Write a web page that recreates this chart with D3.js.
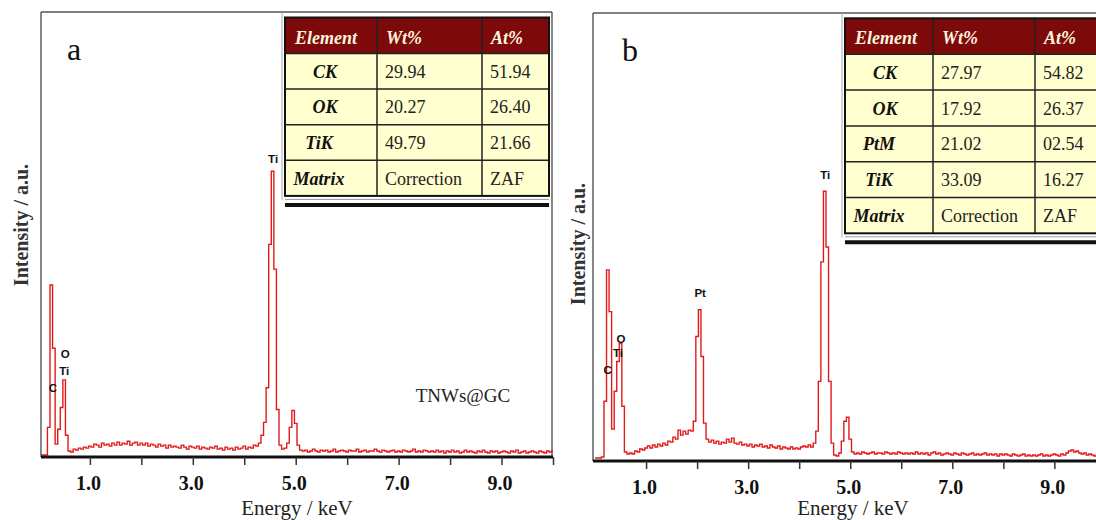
<!DOCTYPE html>
<html>
<head>
<meta charset="utf-8">
<script src="https://cdn.jsdelivr.net/npm/d3@7"></script>
<style>
  body { margin: 0; background: #fff; }
  svg { display: block; }
</style>
</head>
<body>
<svg id="chart" width="1096" height="520"></svg>
<script>
// ---- EDS spectra: counts per 0.05 keV channel ----
const channelWidth = 0.05;

// TNWs@GC
const startEnergyA = 0.05;
const countsA = [
  2, 2, 2, 30, 174, 110, 13, 28, 50, 78,
  22, 6, 5, 8, 7, 9, 8, 10, 9, 11,
  10, 13, 12, 10, 14, 12, 13, 11, 14, 12,
  15, 12, 14, 13, 16, 12, 14, 15, 12, 14,
  12, 14, 11, 13, 12, 10, 13, 11, 12, 9,
  12, 10, 11, 10, 9, 12, 10, 8, 11, 10,
  9, 11, 8, 10, 9, 8, 10, 9, 11, 8,
  9, 7, 10, 8, 9, 7, 10, 8, 9, 11,
  8, 10, 9, 12, 11, 14, 22, 35, 70, 215,
  289, 190, 48, 12, 8, 9, 14, 30, 47, 34,
  12, 7,
  6, 7, 5, 6, 8, 6, 5, 7, 6, 7,
  5, 6, 8, 5, 6, 7, 6, 5, 7, 6,
  6, 8, 5, 6, 7, 5, 6, 6, 8, 6,
  5, 7, 6, 5, 6, 7, 5, 6, 5, 7,
  6, 5, 6, 8, 5, 6, 5, 7, 6, 5,
  6, 5, 7, 5, 6, 4, 6, 5, 7, 5,
  6, 4, 5, 7, 5, 6, 5, 4, 6, 5,
  7, 5, 4, 6, 5, 6, 4, 5, 6, 5,
  4, 6, 5, 7, 4, 5, 6, 4, 5, 6,
  5, 4, 6, 5, 4, 6, 5, 6
];

// Pt on TNWs@GC
const startEnergyB = 0.0;
const countsB = [
  3, 3, 3, 4, 60, 192, 150, 32, 70, 100,
  118, 55, 9, 7, 8, 7, 10, 9, 12, 11,
  13, 15, 13, 16, 14, 17, 15, 18, 16, 20,
  19, 24, 22, 31, 26, 30, 27, 31, 30, 40,
  125, 152, 105, 38, 22, 19, 21, 18, 20, 17,
  19, 18, 22, 19, 23, 18, 17, 19, 16, 17,
  15, 17, 14, 16, 15, 17, 14, 15, 13, 16,
  14, 13, 15, 12, 14, 13, 12, 14, 12, 13,
  12, 14, 15, 14, 16, 14, 18, 30, 80, 200,
  271, 215, 80, 18, 6, 5, 8, 20, 40, 44,
  22, 9, 7,
  8, 7, 9, 8, 7, 8, 9, 7, 8, 8,
  7, 9, 8, 7, 8, 7, 9, 8, 7, 8,
  7, 8, 7, 9, 7, 8, 7, 8, 6, 8,
  9, 7, 8, 6, 7, 8, 7, 6, 8, 7,
  6, 8, 7, 6, 7, 8, 6, 7, 6, 7,
  8, 6, 7, 6, 7, 5, 7, 6, 7, 6,
  5, 7, 6, 5, 6, 7, 5, 6, 5, 6,
  5, 6, 7, 5, 6, 5, 6, 7, 6, 5,
  7, 6, 8, 10, 11, 9, 10, 8, 7, 8,
  6, 7, 6, 5, 7, 6, 5
];

// ---- axis ticks ----
const tickEnergies = [1, 2, 3, 4, 5, 6, 7, 8, 9, 10];
const tickLabels = ["1.0", "", "3.0", "", "5.0", "", "7.0", "", "9.0", ""];

// ---- peak annotations (energy in keV, level in a.u.) ----
const peaksA = [
  { label: "C", energy: 0.28, level: 66 },
  { label: "Ti", energy: 0.50, level: 83 },
  { label: "O", energy: 0.52, level: 100 },
  { label: "Ti", energy: 4.56, level: 297 }
];
const peaksB = [
  { label: "C", energy: 0.245, level: 87 },
  { label: "Ti", energy: 0.45, level: 104 },
  { label: "O", energy: 0.51, level: 119 },
  { label: "Pt", energy: 2.06, level: 165 },
  { label: "Ti", energy: 4.51, level: 283 }
];

// ---- composition tables ----
const tableHeader = ["Element", "Wt%", "At%"];
const tableRowsA = [
  ["CK", "29.94", "51.94"],
  ["OK", "20.27", "26.40"],
  ["TiK", "49.79", "21.66"],
  ["Matrix", "Correction", "ZAF"]
];
const tableRowsB = [
  ["CK", "27.97", "54.82"],
  ["OK", "17.92", "26.37"],
  ["PtM", "21.02", "02.54"],
  ["TiK", "33.09", "16.27"],
  ["Matrix", "Correction", "ZAF"]
];

const SERIF = '"Liberation Serif", "Times New Roman", Times, serif';
const SANS = '"Liberation Sans", Arial, Helvetica, sans-serif';
const LINE_RED = "#e31a1a";

const svg = d3.select("#chart");
svg.append("rect").attr("width", 1096).attr("height", 520).attr("fill", "#fff");

function toSeries(start, counts) {
  return counts.map((c, i) => ({ e: start + i * channelWidth, c }));
}

function drawPanel(cfg) {
  const g = svg.append("g");
  const x = d3.scaleLinear().domain(cfg.domain).range([cfg.left, cfg.right]);
  const y = d3.scaleLinear().domain([0, 450]).range([cfg.bottom, cfg.top]);

  const clipId = "clip-" + cfg.id;
  svg.append("clipPath").attr("id", clipId)
    .append("rect")
    .attr("x", cfg.left).attr("y", cfg.top - 2)
    .attr("width", cfg.right - cfg.left).attr("height", cfg.bottom - cfg.top + 2);

  // frame (left, top, optional right)
  g.append("line")
    .attr("x1", cfg.left).attr("x2", cfg.left)
    .attr("y1", cfg.top).attr("y2", cfg.bottom)
    .attr("stroke", "#555").attr("stroke-width", 1.4);
  g.append("line")
    .attr("x1", cfg.left).attr("x2", cfg.frameRight)
    .attr("y1", cfg.top).attr("y2", cfg.top)
    .attr("stroke", "#555").attr("stroke-width", 1.4);
  if (cfg.frameRight < 1096) {
    g.append("line")
      .attr("x1", cfg.frameRight).attr("x2", cfg.frameRight)
      .attr("y1", cfg.top).attr("y2", cfg.bottom)
      .attr("stroke", "#555").attr("stroke-width", 1.4);
  }

  // spectrum trace
  const line = d3.line()
    .x(d => x(d.e))
    .y(d => y(d.c))
    .curve(d3.curveStep);
  g.append("path")
    .datum(toSeries(cfg.start, cfg.counts))
    .attr("clip-path", `url(#${clipId})`)
    .attr("fill", "none")
    .attr("stroke", LINE_RED)
    .attr("stroke-width", 1.4)
    .attr("stroke-linejoin", "miter")
    .attr("d", line);

  // energy axis
  const axis = d3.axisBottom(x)
    .tickValues(tickEnergies)
    .tickFormat((d, i) => tickLabels[i])
    .tickSize(8)
    .tickSizeOuter(0)
    .tickPadding(11);
  const ax = g.append("g")
    .attr("transform", `translate(0,${cfg.bottom})`)
    .call(axis);
  ax.select(".domain")
    .attr("stroke", "#111").attr("stroke-width", 3)
    .attr("d", `M${cfg.left},0H${Math.min(cfg.right, 1096)}`);
  ax.selectAll(".tick line").attr("stroke", "#333").attr("stroke-width", 1.5);
  ax.selectAll(".tick text")
    .attr("font-family", SERIF).attr("font-size", 20).attr("font-weight", "bold")
    .attr("fill", "#111").attr("dx", -2);

  // axis titles
  g.append("text")
    .attr("x", cfg.xTitleX).attr("y", 515)
    .attr("text-anchor", "middle")
    .attr("font-family", SERIF).attr("font-size", 21).attr("fill", "#222")
    .text("Energy / keV");
  g.append("text")
    .attr("transform", `translate(${cfg.yTitleX},${cfg.yTitleY}) rotate(-90)`)
    .attr("text-anchor", "middle")
    .attr("font-family", SERIF).attr("font-size", 20).attr("font-weight", "bold")
    .attr("fill", "#333")
    .text("Intensity / a.u.");

  // panel letter
  g.append("text")
    .attr("x", cfg.letterX).attr("y", cfg.letterY)
    .attr("font-family", SERIF).attr("font-size", 32).attr("fill", "#111")
    .text(cfg.letter);

  // peak labels
  g.selectAll(".peak")
    .data(cfg.peaks)
    .join("text")
    .attr("x", d => x(d.energy)).attr("y", d => y(d.level))
    .attr("text-anchor", "middle")
    .attr("font-family", SANS).attr("font-size", 11.5).attr("font-weight", "bold")
    .attr("fill", "#111")
    .text(d => d.label);

  return { g, x, y };
}

function drawTable(cfg) {
  const g = svg.append("g");
  const colX = [cfg.x0];
  cfg.colW.forEach((w, i) => colX.push(colX[i] + w));
  const rowY = [cfg.y0, cfg.y0 + cfg.headerH];
  cfg.rows.forEach((r, i) => rowY.push(rowY[i + 1] + cfg.rowH));
  const x1 = colX[colX.length - 1];
  const yEnd = rowY[rowY.length - 1];

  // light outline of the embedded table object
  g.append("line")
    .attr("x1", cfg.x0 - 3).attr("x2", cfg.x0 - 3)
    .attr("y1", cfg.frameTop).attr("y2", yEnd + 4)
    .attr("stroke", "#aaa").attr("stroke-width", 1);
  g.append("line")
    .attr("x1", cfg.x0).attr("x2", x1)
    .attr("y1", yEnd + 3.5).attr("y2", yEnd + 3.5)
    .attr("stroke", "#999").attr("stroke-width", 1);
  g.append("line")
    .attr("x1", cfg.x0).attr("x2", x1)
    .attr("y1", yEnd + 9).attr("y2", yEnd + 9)
    .attr("stroke", "#111").attr("stroke-width", 4);

  // header band and body fill
  g.append("rect")
    .attr("x", cfg.x0).attr("y", rowY[0])
    .attr("width", x1 - cfg.x0).attr("height", cfg.headerH)
    .attr("fill", "#7d0a0a");
  g.append("rect")
    .attr("x", cfg.x0).attr("y", rowY[1])
    .attr("width", x1 - cfg.x0).attr("height", yEnd - rowY[1])
    .attr("fill", "#ffffcf");

  // grid lines
  rowY.slice(1, -1).forEach(yy => {
    g.append("line")
      .attr("x1", cfg.x0).attr("x2", x1).attr("y1", yy).attr("y2", yy)
      .attr("stroke", "#222").attr("stroke-width", 1.5);
  });
  colX.slice(1, -1).forEach(xx => {
    g.append("line")
      .attr("x1", xx).attr("x2", xx).attr("y1", rowY[0]).attr("y2", yEnd)
      .attr("stroke", "#222").attr("stroke-width", 1.5);
  });
  g.append("rect")
    .attr("x", cfg.x0).attr("y", rowY[0])
    .attr("width", x1 - cfg.x0).attr("height", yEnd - rowY[0])
    .attr("fill", "none").attr("stroke", "#111").attr("stroke-width", 2);

  // header text
  tableHeader.forEach((h, i) => {
    g.append("text")
      .attr("x", colX[i] + (i === 0 ? 10 : 9)).attr("y", rowY[0] + 26)
      .attr("font-family", SERIF).attr("font-size", 18)
      .attr("font-style", "italic").attr("font-weight", "bold")
      .attr("fill", "#fff4de")
      .text(h);
  });

  // body text
  cfg.rows.forEach((r, ri) => {
    const base = rowY[ri + 1] + cfg.rowH / 2 + 6.5;
    g.append("text")
      .attr("x", colX[0] + (r[0].length <= 2 ? 40 : 34)).attr("y", base)
      .attr("text-anchor", "middle")
      .attr("font-family", SERIF).attr("font-size", 18)
      .attr("font-style", "italic").attr("font-weight", "bold")
      .attr("fill", "#111")
      .text(r[0]);
    [1, 2].forEach(ci => {
      g.append("text")
        .attr("x", colX[ci] + 8).attr("y", base)
        .attr("font-family", SERIF).attr("font-size", 18)
        .attr("fill", "#222")
        .text(r[ci]);
    });
  });
}

// ---- panel a ----
drawPanel({
  id: "a", letter: "a", letterX: 67, letterY: 60,
  left: 41, right: 553, frameRight: 552, top: 12, bottom: 457,
  domain: [0.05, 10],
  start: startEnergyA, counts: countsA, peaks: peaksA,
  xTitleX: 297, yTitleX: 28, yTitleY: 225
});
drawTable({
  x0: 285, y0: 17.5, colW: [92, 105, 67], headerH: 36, rowH: 35.6,
  rows: tableRowsA, frameTop: 13
});
svg.append("text")
  .attr("x", 463).attr("y", 402)
  .attr("text-anchor", "middle")
  .attr("font-family", SERIF).attr("font-size", 19).attr("fill", "#222")
  .text("TNWs@GC");

// ---- panel b ----
drawPanel({
  id: "b", letter: "b", letterX: 622, letterY: 61,
  left: 593, right: 1105.4, frameRight: 1200, top: 13, bottom: 461,
  domain: [-0.04, 10],
  start: startEnergyB, counts: countsB, peaks: peaksB,
  xTitleX: 853, yTitleX: 585, yTitleY: 244
});
drawTable({
  x0: 845, y0: 18.3, colW: [88, 102, 70], headerH: 36, rowH: 35.8,
  rows: tableRowsB, frameTop: 13
});
</script>
</body>
</html>
